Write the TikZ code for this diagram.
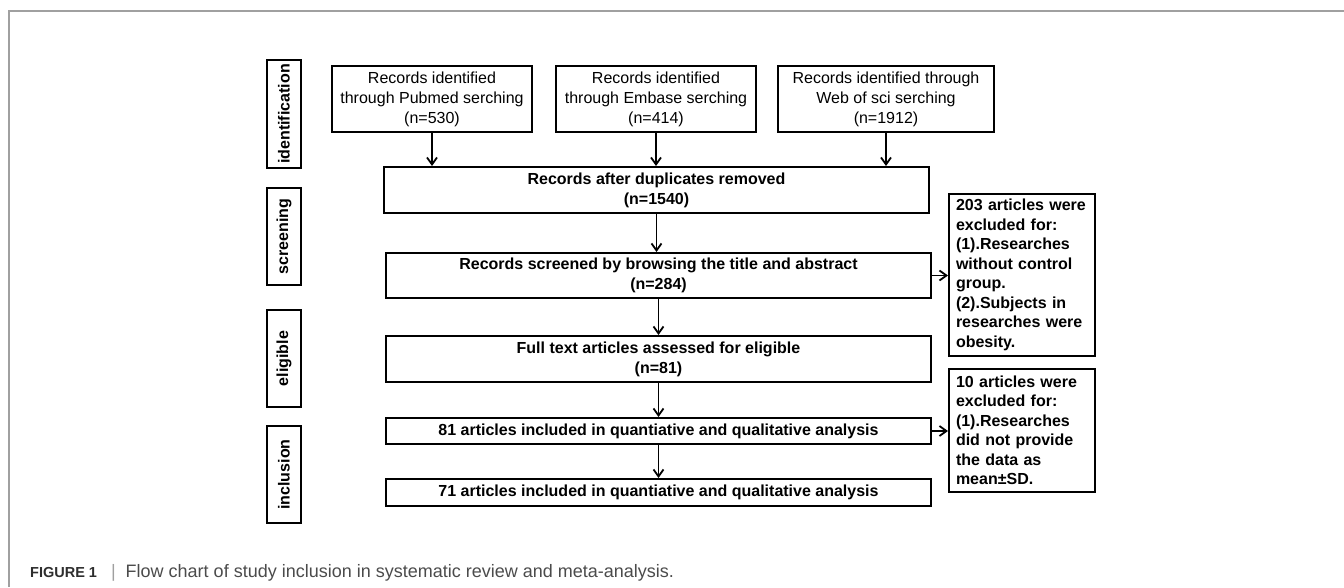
\documentclass[tikz,border=0pt]{standalone}
\usepackage{fontspec}
\setmainfont{Liberation Sans}
\usetikzlibrary{arrows.meta,positioning}
\definecolor{framegray}{RGB}{160,160,160}
\definecolor{capdark}{RGB}{45,45,45}
\definecolor{capgray}{RGB}{75,75,75}
\newcommand{\boxfont}{\fontsize{16pt}{20pt}\selectfont}
\newcommand{\notefont}{\fontsize{16pt}{19.5pt}\selectfont}

\begin{document}
\begin{tikzpicture}[x=1pt,y=-1pt,
  flowbox/.style={draw,line width=2pt,align=center,inner sep=2pt,font=\boxfont},
  stagebox/.style={draw,line width=2pt,rotate=90,minimum height=34pt,inner sep=0pt,
    font=\boxfont\bfseries},
  notebox/.style={draw,line width=2pt,align=left,text width=132pt,inner xsep=7pt,
    font=\notefont\bfseries},
  flowarrow/.style={-{Straight Barb[length=7pt,width=10pt]},line width=1.8pt}]
  \useasboundingbox (0,0) rectangle (1344,587);
  % Page frame
  \draw[framegray,line width=1.2pt] (9,587) -- (9,11) -- (1344,11);
  % Stage labels
  \node[stagebox,minimum width=108pt] (stageid) at (284,114) {identification};
  \node[stagebox,minimum width=97pt] (stagescr) at (284,236.5) {screening};
  \node[stagebox,minimum width=97pt] (stageel) at (284,358.5) {eligible};
  \node[stagebox,minimum width=97pt] (stageinc) at (284,474.5) {inclusion};
  % Database searches
  \node[flowbox,minimum width=200pt,minimum height=66pt] (pubmed) at (432,99)
    {Records identified\\through Pubmed serching\\(n=530)};
  \node[flowbox,minimum width=200pt,minimum height=66pt] (embase) at (656,99)
    {Records identified\\through Embase serching\\(n=414)};
  \node[flowbox,minimum width=216pt,minimum height=66pt] (wos) at (886,99)
    {Records identified through\\Web of sci serching\\(n=1912)};
  % Main flow
  \node[flowbox,font=\boxfont\bfseries,minimum width=545pt,minimum height=46pt] (dedup) at (656.5,190)
    {Records after duplicates removed\\(n=1540)};
  \node[flowbox,font=\boxfont\bfseries,minimum width=545pt,minimum height=45pt] (screened) at (658.5,275.5)
    {Records screened by browsing the title and abstract\\(n=284)};
  \node[flowbox,font=\boxfont\bfseries,minimum width=545pt,minimum height=46pt] (fulltext) at (658.5,359)
    {Full text articles assessed for eligible\\(n=81)};
  \node[flowbox,font=\boxfont\bfseries,minimum width=545pt,minimum height=26pt] (incl81) at (658.5,431)
    {81 articles included in quantiative and qualitative analysis};
  \node[flowbox,font=\boxfont\bfseries,minimum width=545pt,minimum height=27pt] (incl71) at (658.5,492.5)
    {71 articles included in quantiative and qualitative analysis};
  % Exclusions
  \node[notebox,minimum height=162pt] (excl203) at (1022,275)
    {203 articles were\\excluded for:\\(1).Researches\\without control\\group.\\(2).Subjects in\\researches were\\obesity.};
  \node[notebox,minimum height=123pt] (excl10) at (1022,430.5)
    {10 articles were\\excluded for:\\(1).Researches\\did not provide\\the data as\\mean±SD.};
  % Arrows
  \draw[flowarrow] (pubmed.south) -- (pubmed.south |- dedup.north);
  \draw[flowarrow] (embase.south) -- (embase.south |- dedup.north);
  \draw[flowarrow] (wos.south) -- (wos.south |- dedup.north);
  \draw[flowarrow] (dedup.south) -- (dedup.south |- screened.north);
  \draw[flowarrow] (screened.south) -- (screened.south |- fulltext.north);
  \draw[flowarrow] (fulltext.south) -- (fulltext.south |- incl81.north);
  \draw[flowarrow] (incl81.south) -- (incl81.south |- incl71.north);
  \draw[flowarrow] (screened.east) -- (excl203.west |- screened.east);
  \draw[flowarrow] (incl81.east) -- (excl10.west |- incl81.east);
  % Caption
  \node[anchor=base west,inner sep=0pt,text=capgray] (caption) at (30,577)
    {{\fontsize{14.5pt}{16pt}\selectfont\bfseries\color{capdark}FIGURE 1}\hspace{14pt}{\fontsize{18pt}{18pt}\selectfont\color{framegray}|}\hspace{10pt}{\fontsize{18pt}{18pt}\selectfont Flow chart of study inclusion in systematic review and meta-analysis.}};
\end{tikzpicture}
\end{document}
